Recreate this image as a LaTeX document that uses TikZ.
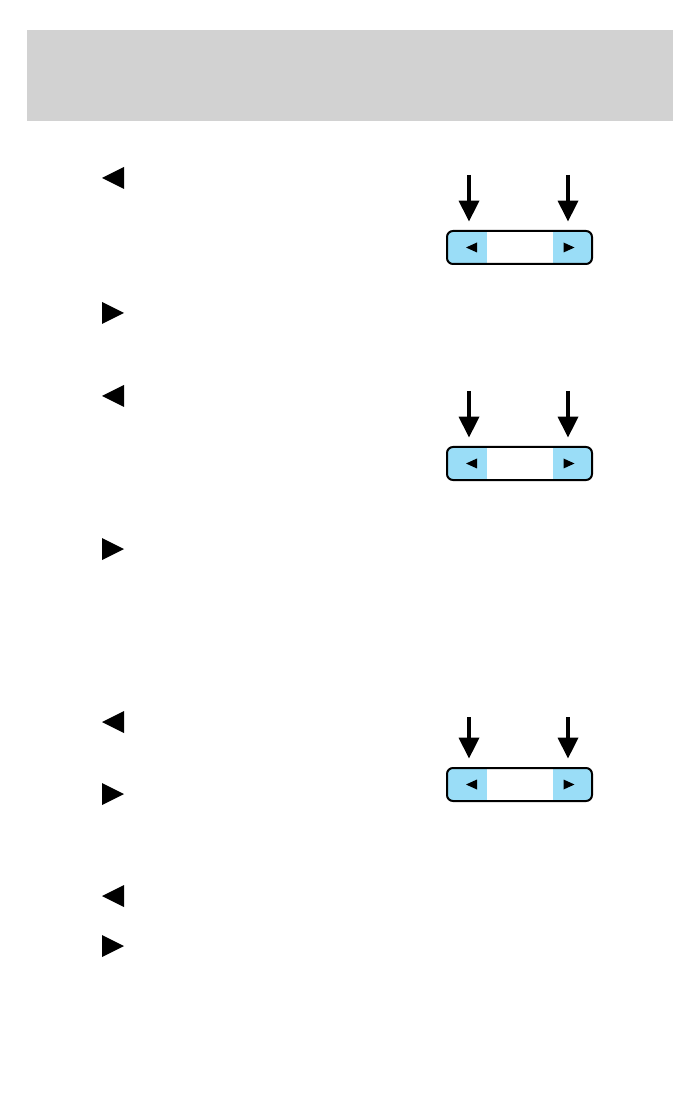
\documentclass[tikz,border=0pt]{standalone}
\usepackage{tikz}
\usetikzlibrary{arrows.meta,positioning}
\definecolor{hdrgray}{HTML}{D2D2D2}
\definecolor{keyblue}{HTML}{9ADDF7}

\begin{document}
\begin{tikzpicture}[x=0.5pt,y=-0.5pt,
  keynode/.style={inner sep=0pt,minimum width=20pt,minimum height=16.5pt},
  keyarrow/.style={line width=1.75pt,-{Triangle[length=10.5pt,width=10pt]},shorten >=4.5pt}]
\useasboundingbox (0,0) rectangle (699,1095);
\fill[hdrgray] (27,30) rectangle (673,121);
% text markers
\foreach \y in {178,396,722,896}{\fill (102,\y)--(124,\y-11)--(124,\y+11)--cycle;}
\foreach \y in {313,549,794,946}{\fill (124,\y)--(102,\y-11)--(102,\y+11)--cycle;}
% seek keys
\foreach \n/\t/\s in {a/231/175,b/447/391,c/768/717}{
  \begin{scope}
    \clip[rounded corners=3pt] (447,\t) rectangle (592,\t+33);
    \fill[keyblue] (447,\t) rectangle (487,\t+33);
    \fill[keyblue] (553,\t) rectangle (592,\t+33);
  \end{scope}
  \draw[line width=1pt,rounded corners=3pt] (447,\t) rectangle (592,\t+33);
  \node[keynode] (\n L) at (467,\t+16.5) {};
  \node[keynode,minimum width=19.5pt] (\n R) at (572.5,\t+16.5) {};
  \fill ([xshift=-0.5pt]\n L.center) -- ++(11,-5) -- ++(0,10) -- cycle;
  \fill ([xshift=1pt]\n R.center) -- ++(-11,-5) -- ++(0,10) -- cycle;
  \coordinate (\n Ls) at (469,\s);
  \coordinate (\n Rs) at (568,\s);
  \draw[keyarrow] (\n Ls) -- (\n Ls |- \n L.north);
  \draw[keyarrow] (\n Rs) -- (\n Rs |- \n R.north);
}
\end{tikzpicture}
\end{document}
